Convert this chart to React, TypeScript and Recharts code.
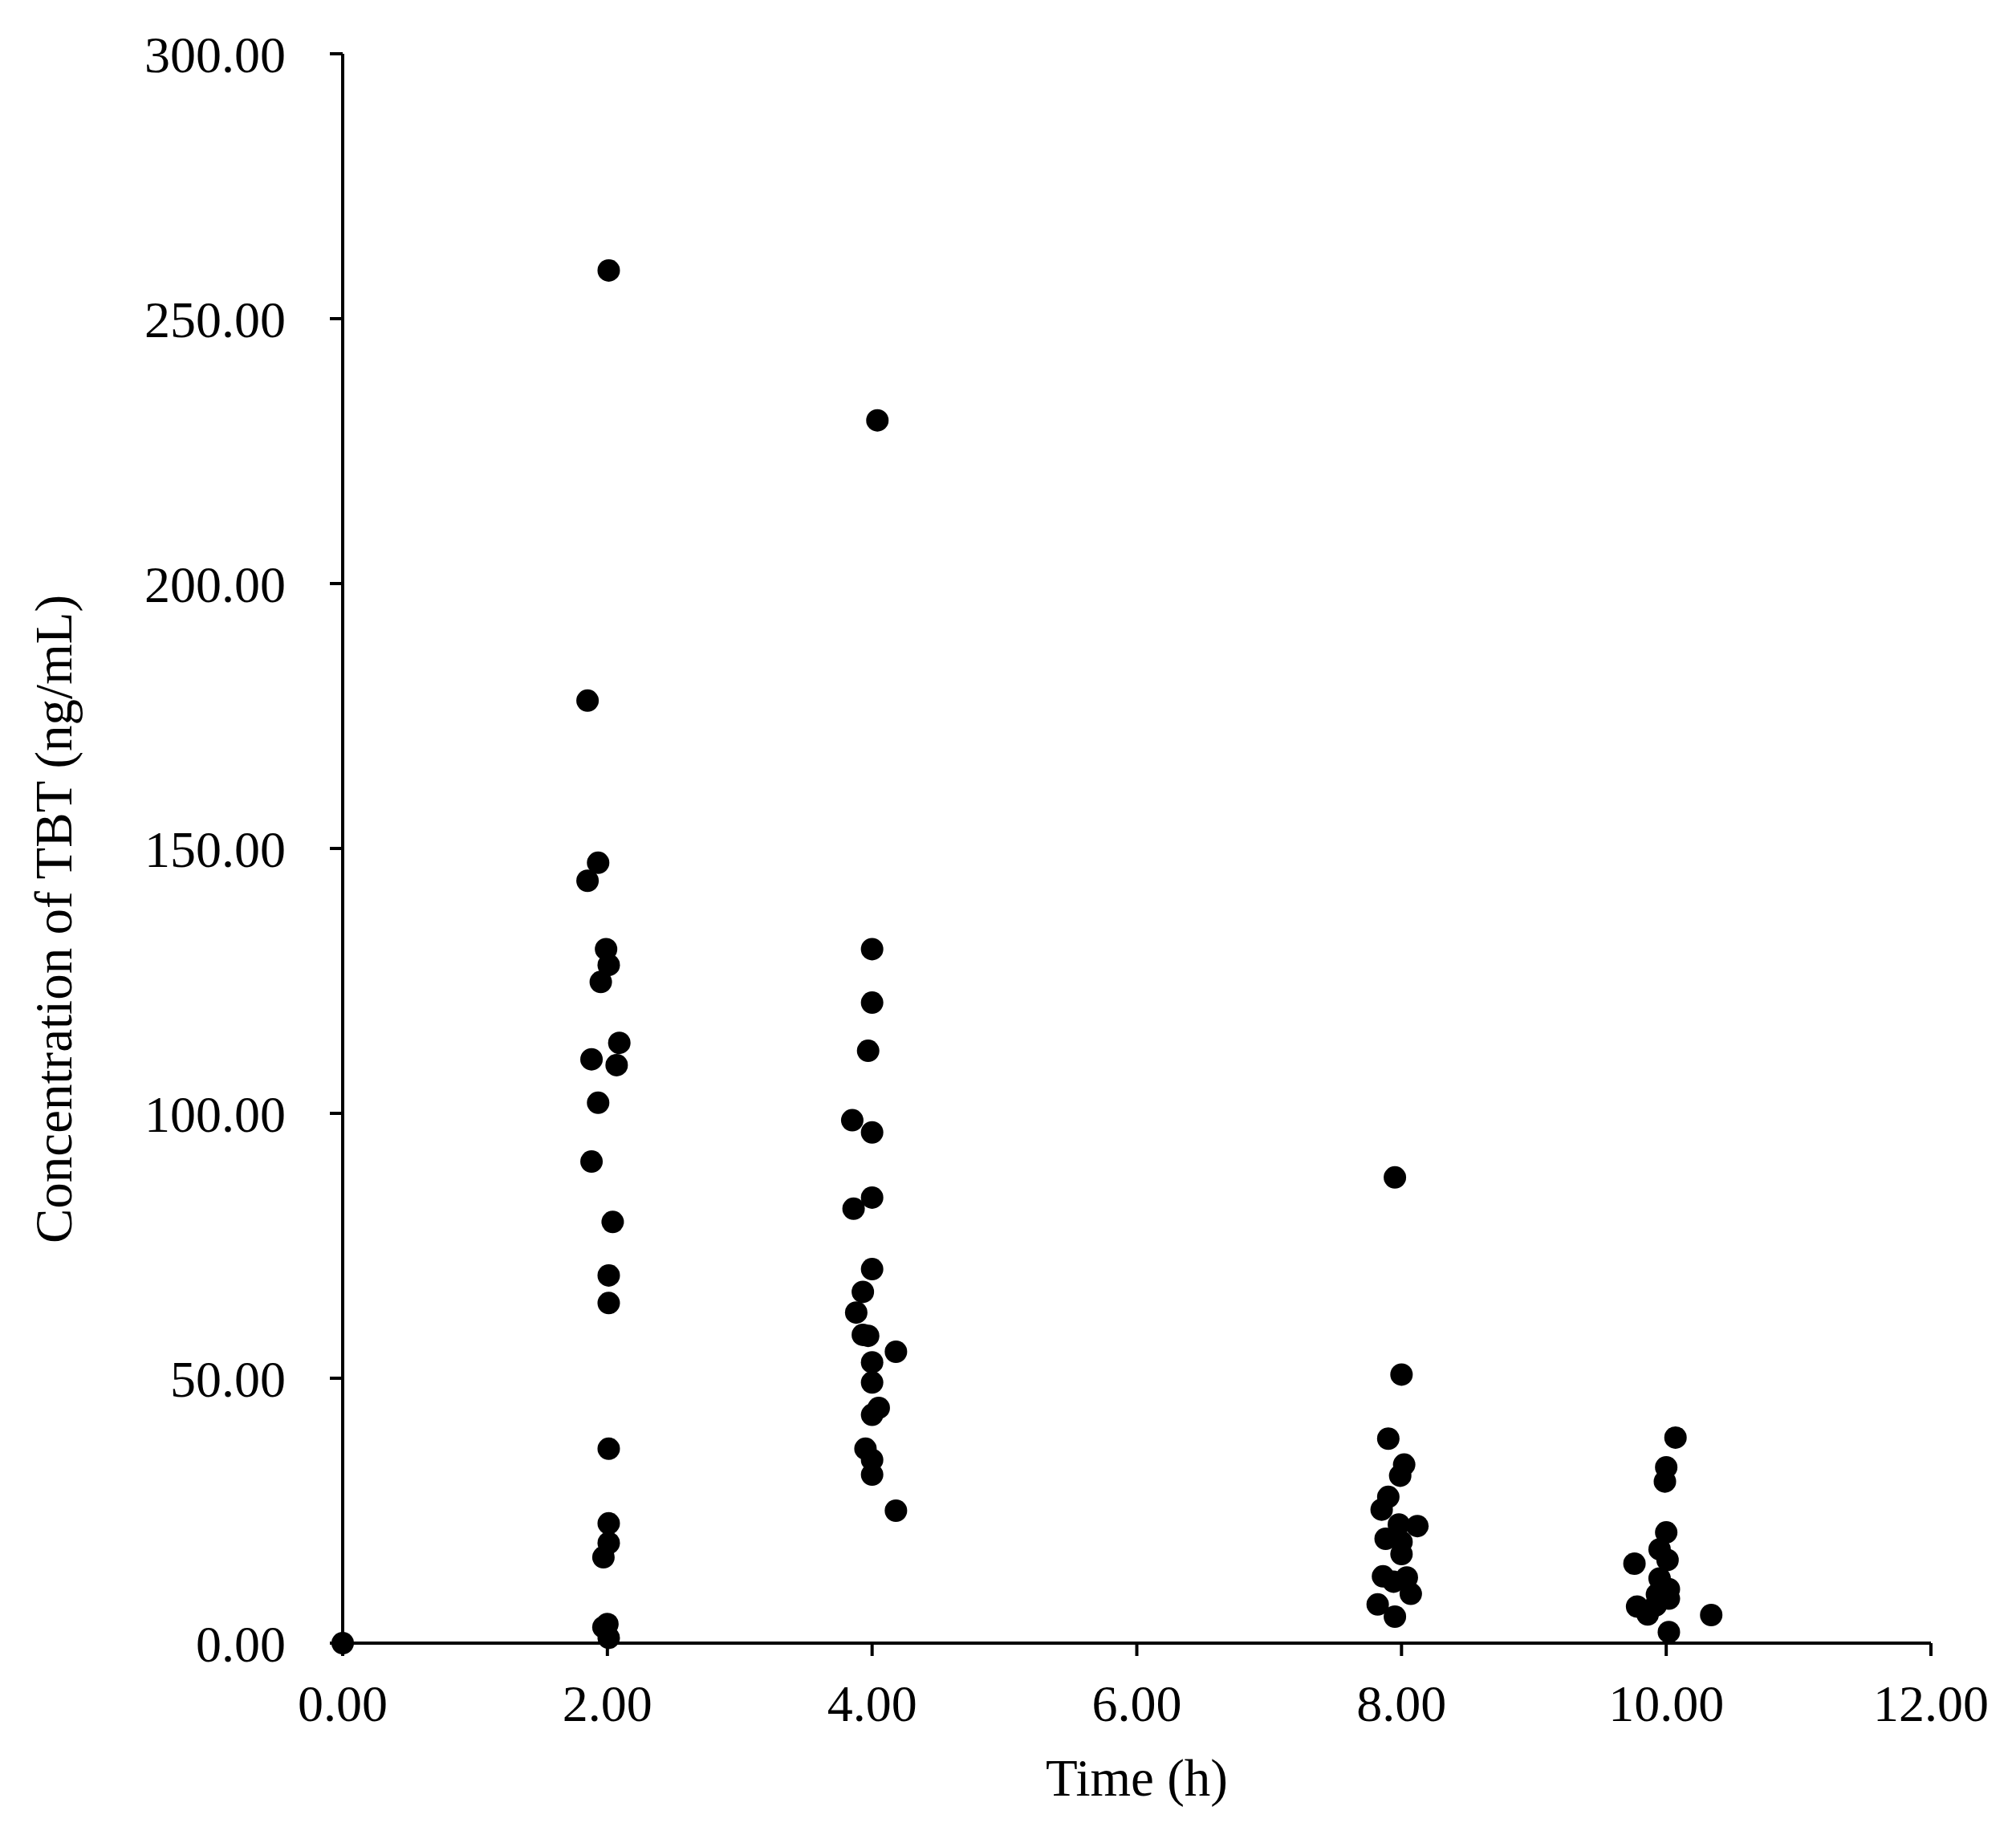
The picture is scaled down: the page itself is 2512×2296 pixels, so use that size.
import { ScatterChart, Scatter, XAxis, YAxis, Label } from 'recharts'

// sampling times (h) and TBT concentrations (ng/mL), grouped by nominal time point
const time0 = [0]
const conc0 = [0]

const time2 = [2.01, 1.85, 1.93, 1.85, 1.99, 2.01, 1.95, 2.09, 1.88, 2.07, 1.93, 1.88, 2.04, 2.01, 2.01, 2.01, 2.01, 2.01, 1.97, 2.0, 1.97, 2.01]
const conc2 = [259.1, 177.9, 147.3, 143.9, 131.0, 128.0, 124.8, 113.3, 110.2, 109.1, 102.0, 90.9, 79.5, 69.4, 64.2, 36.7, 22.6, 18.9, 16.2, 3.6, 3.0, 1.0]

const time4 = [4.04, 4.0, 4.0, 3.97, 3.85, 4.0, 4.0, 3.86, 4.0, 3.93, 3.88, 3.93, 3.97, 4.18, 4.0, 4.0, 4.05, 4.0, 3.95, 4.0, 4.0, 4.18]
const conc4 = [230.8, 131.0, 120.9, 111.8, 98.7, 96.4, 84.1, 82.0, 70.6, 66.3, 62.4, 58.2, 58.0, 55.0, 53.0, 49.2, 44.4, 43.1, 36.7, 34.6, 31.8, 25.0]

const time8 = [7.95, 8.0, 7.9, 8.02, 7.99, 7.9, 7.85, 7.98, 8.12, 7.88, 8.0, 8.0, 7.86, 7.94, 8.04, 8.07, 7.82, 7.95]
const conc8 = [87.9, 50.7, 38.6, 33.7, 31.6, 27.6, 25.2, 22.4, 22.1, 19.7, 19.1, 16.8, 12.6, 11.6, 12.4, 9.3, 7.3, 5.0]

const time10 = [10.07, 10.0, 9.99, 10.0, 9.76, 9.95, 10.01, 9.95, 10.02, 9.93, 10.02, 9.78, 9.86, 9.92, 10.34, 10.02]
const conc10 = [38.8, 33.2, 30.5, 20.9, 15.0, 17.7, 15.7, 12.2, 10.2, 9.2, 8.4, 6.9, 5.4, 7.1, 5.3, 2.1]

const xTicks = [0, 2, 4, 6, 8, 10, 12]
const yTicks = [0, 50, 100, 150, 200, 250, 300]

const toPoints = (ts: number[], cs: number[]) => ts.map((t, i) => ({ time: t, conc: cs[i] }))

const data = [
  ...toPoints(time0, conc0),
  ...toPoints(time2, conc2),
  ...toPoints(time4, conc4),
  ...toPoints(time8, conc8),
  ...toPoints(time10, conc10),
]

const FONT = '"Liberation Serif", "Times New Roman", serif'

const YTitle = (props: any) => {
  const vb = props.viewBox
  const cx = vb.x + 67
  const cy = vb.y + vb.height / 2 + 88
  return (
    <text
      x={cx}
      y={cy}
      transform={`rotate(-90 ${cx} ${cy})`}
      textAnchor="middle"
      dominantBaseline="central"
      fontFamily={FONT}
      fontSize={65}
      fill="#000"
    >
      Concentration of TBT (ng/mL)
    </text>
  )
}

const XTitle = (props: any) => {
  const vb = props.viewBox
  return (
    <text
      x={vb.x + vb.width / 2}
      y={vb.y + 168}
      textAnchor="middle"
      dominantBaseline="central"
      fontFamily={FONT}
      fontSize={65}
      fill="#000"
    >
      Time (h)
    </text>
  )
}

export default function App() {
  return (
    <div style={{ position: 'absolute', left: 0, top: 0, background: '#fff' }}>
      <ScatterChart width={2512} height={2296} margin={{ top: 67, right: 106, bottom: 0, left: 0 }}>
        <XAxis
          type="number"
          dataKey="time"
          domain={[0, 12]}
          ticks={xTicks}
          tickFormatter={(v: number) => v.toFixed(2)}
          height={249}
          tickSize={16}
          tickMargin={36}
          axisLine={{ stroke: '#000', strokeWidth: 4 }}
          tickLine={{ stroke: '#000', strokeWidth: 4 }}
          tick={{ fill: '#000', fontSize: 64, fontFamily: FONT }}
          interval={0}
        >
          <Label content={XTitle} />
        </XAxis>
        <YAxis
          type="number"
          dataKey="conc"
          domain={[0, 300]}
          ticks={yTicks}
          tickFormatter={(v: number) => v.toFixed(2)}
          width={427}
          tickSize={16}
          tickMargin={55}
          axisLine={{ stroke: '#000', strokeWidth: 4 }}
          tickLine={{ stroke: '#000', strokeWidth: 4 }}
          tick={{ fill: '#000', fontSize: 64, fontFamily: FONT }}
          interval={0}
        >
          <Label content={YTitle} />
        </YAxis>
        <Scatter
          data={data}
          fill="#000"
          isAnimationActive={false}
          shape={(p: any) => <circle cx={p.cx} cy={p.cy} r={14} fill="#000" />}
        />
      </ScatterChart>
    </div>
  )
}
